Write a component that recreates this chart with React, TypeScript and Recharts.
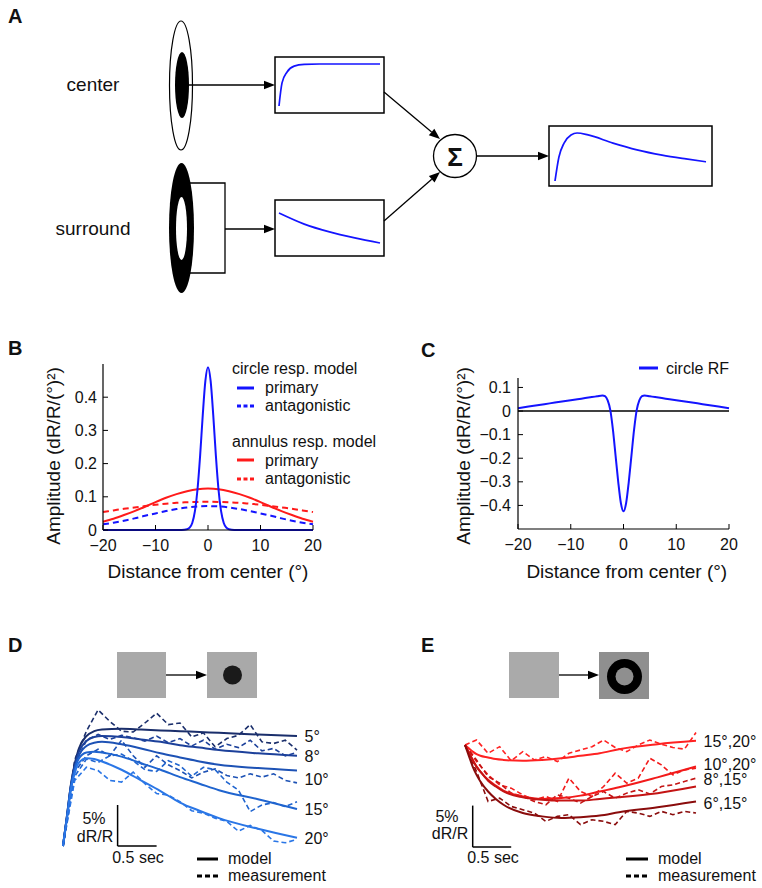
import React from 'react'
import { LineChart, Line, XAxis, YAxis, ReferenceLine } from 'recharts'

const FONT = '"Liberation Sans", Arial, Helvetica, sans-serif'
const BLUE = '#1414ff'
const RED = '#ff1a1a'

// A: schematic traces, normalised time / amplitude inside each box
const centerTime = [0, 0.03, 0.08, 0.15, 0.25, 0.4, 1]
const centerResp = [0, 0.55, 0.81, 0.95, 0.99, 1, 1]
const surroundTime = [0, 0.25, 0.5, 0.75, 1]
const surroundResp = [1, 0.63, 0.37, 0.17, 0]
const outputTime = [0, 0.026, 0.06, 0.106, 0.146, 0.219, 0.384, 0.543, 0.709, 0.868, 1]
const outputResp = [0, 0.5, 0.79, 0.96, 1, 0.96, 0.79, 0.65, 0.54, 0.46, 0.4]

// B: spatial profiles
const narrowX = [-20, -5, -4, -3.5, -3, -2.5, -2, -1.5, -1, -0.5, 0, 0.5, 1, 1.5, 2, 2.5, 3, 3.5, 4, 5, 20]
const circlePrimary = [0, 0, 0.002, 0.007, 0.021, 0.056, 0.122, 0.224, 0.346, 0.449, 0.49, 0.449, 0.346, 0.224, 0.122, 0.056, 0.021, 0.007, 0.002, 0, 0]
const broadX = [-20, -18, -16, -14, -12, -10, -8, -6, -4, -2, 0, 2, 4, 6, 8, 10, 12, 14, 16, 18, 20]
const circleAntag = [0.017, 0.022, 0.028, 0.035, 0.043, 0.05, 0.057, 0.063, 0.068, 0.071, 0.072, 0.071, 0.068, 0.063, 0.057, 0.05, 0.043, 0.035, 0.028, 0.022, 0.017]
const annulusPrimary = [0.025, 0.034, 0.045, 0.057, 0.07, 0.084, 0.097, 0.108, 0.117, 0.123, 0.125, 0.123, 0.117, 0.108, 0.097, 0.084, 0.07, 0.057, 0.045, 0.034, 0.025]
const annulusAntag = [0.054, 0.059, 0.064, 0.068, 0.072, 0.076, 0.079, 0.082, 0.0835, 0.0846, 0.085, 0.0846, 0.0835, 0.082, 0.079, 0.076, 0.072, 0.068, 0.064, 0.059, 0.054]

// C: circle receptive field
const rfX = [-20, -18, -16, -14, -12, -10, -8, -6, -5, -4, -3.5, -3, -2.5, -2, -1.5, -1, -0.5, 0, 0.5, 1, 1.5, 2, 2.5, 3, 3.5, 4, 5, 6, 8, 10, 12, 14, 16, 18, 20]
const circleRF = [0.012, 0.019, 0.0255, 0.0325, 0.039, 0.046, 0.0525, 0.059, 0.0625, 0.066, 0.063, 0.045, 0.004, -0.08, -0.19, -0.3, -0.39, -0.425, -0.39, -0.3, -0.19, -0.08, 0.004, 0.045, 0.063, 0.066, 0.0625, 0.059, 0.0525, 0.046, 0.039, 0.0325, 0.0255, 0.019, 0.012]

const distTicks = [-20, -10, 0, 10, 20]
const ampTicksB = [0, 0.1, 0.2, 0.3, 0.4]
const ampTicksC = [-0.4, -0.3, -0.2, -0.1, 0, 0.1]

// D / E: time courses (sec, % dR/R)
const tModel = [0, 0.05, 0.1, 0.15, 0.2, 0.3, 0.4, 0.5, 0.75, 1, 1.25, 1.5, 1.75, 2, 2.5, 3]
const tMeas = [0, 0.15, 0.3, 0.45, 0.6, 0.75, 0.9, 1.05, 1.2, 1.35, 1.5, 1.65, 1.8, 1.95, 2.1, 2.25, 2.4, 2.55, 2.7, 2.85, 3]

const model5 = [0, 3.6, 7.4, 10.0, 11.8, 13.4, 14.0, 14.2, 14.3, 14.2, 14.1, 14.0, 13.9, 13.8, 13.6, 13.4]
const model8 = [0, 3.6, 7.3, 9.8, 11.4, 12.8, 13.3, 13.4, 13.3, 13.0, 12.7, 12.3, 12.0, 11.7, 11.3, 11.0]
const model10 = [0, 3.5, 7.2, 9.5, 11.0, 12.2, 12.6, 12.7, 12.4, 11.9, 11.3, 10.8, 10.3, 9.9, 9.5, 9.2]
const model15 = [0, 3.4, 7.0, 9.3, 10.6, 11.4, 11.5, 11.4, 10.9, 10.1, 9.3, 8.4, 7.6, 6.8, 5.7, 4.5]
const model20 = [0, 3.3, 6.8, 8.9, 10.1, 10.7, 10.6, 10.3, 9.3, 8.0, 6.7, 5.3, 4.3, 3.4, 2.1, 1.0]
const meas5 = [0, 10.5, 14.0, 16.6, 15.2, 14.0, 13.9, 15.0, 16.2, 14.8, 15.0, 13.3, 13.8, 12.1, 13.1, 13.5, 14.8, 12.7, 12.5, 12.9, 11.7]
const meas8 = [0, 9.8, 12.9, 13.6, 13.0, 13.5, 13.2, 12.8, 13.4, 12.6, 13.1, 12.2, 12.9, 11.8, 12.4, 12.0, 12.9, 11.6, 11.9, 11.0, 11.4]
const meas10 = [0, 9.0, 11.0, 11.8, 11.0, 12.9, 11.0, 9.6, 11.0, 9.9, 9.2, 8.3, 9.0, 9.4, 8.6, 8.3, 8.8, 8.4, 8.8, 8.0, 7.7]
const meas15 = [0, 8.5, 10.6, 10.2, 11.0, 11.2, 10.4, 9.3, 9.1, 10.4, 9.8, 8.5, 9.6, 9.3, 7.8, 6.8, 4.2, 5.0, 5.3, 4.8, 5.4]
const meas20 = [0, 8.0, 9.6, 9.2, 8.0, 7.8, 9.0, 7.6, 6.4, 6.2, 5.4, 4.3, 4.0, 3.4, 3.0, 1.8, 2.5, 1.9, 0.6, 0.4, 0.8]
const circleLabels = ['5°', '8°', '10°', '15°', '20°']
const circleColors = ['#1a2e6b', '#1c409a', '#1d52b5', '#1f64cf', '#2a76e6']

const model1520 = [0, -0.4, -0.8, -1.1, -1.3, -1.5, -1.7, -1.8, -1.9, -1.8, -1.6, -1.3, -1.0, -0.5, 0.1, 0.5]
const model1020 = [0, -0.9, -1.8, -2.6, -3.2, -4.2, -4.9, -5.5, -6.2, -6.5, -6.4, -6.1, -5.6, -5.1, -3.9, -2.6]
const model815 = [0, -0.9, -1.8, -2.6, -3.2, -4.3, -5.0, -5.6, -6.3, -6.6, -6.7, -6.7, -6.5, -6.3, -5.8, -5.0]
const model615 = [0, -1.3, -2.6, -3.6, -4.4, -5.6, -6.5, -7.2, -8.2, -8.6, -8.8, -8.7, -8.5, -8.1, -7.5, -6.8]
const meas1520 = [0, 0.6, -1.0, -0.2, -1.9, -0.8, -1.8, -1.4, -2.0, -1.0, -0.6, -0.2, 0.6, -0.3, -0.8, 0.0, 0.6, 0.1, -0.3, -0.5, 1.5]
const meas1020 = [0, -2.0, -3.6, -4.8, -5.2, -6.0, -6.6, -6.2, -6.8, -4.0, -5.6, -6.2, -5.0, -3.4, -4.6, -4.0, -1.6, -2.4, -3.6, -3.0, -2.8]
const meas815 = [0, -1.8, -3.8, -4.6, -5.8, -6.2, -6.8, -7.2, -6.0, -6.4, -7.0, -6.2, -5.6, -6.4, -5.8, -5.4, -5.9, -5.0, -4.8, -4.4, -4.0]
const meas615 = [0, -3.2, -6.8, -6.4, -7.4, -7.8, -8.2, -9.2, -8.6, -8.4, -9.6, -9.0, -9.2, -9.6, -8.0, -8.2, -8.6, -8.0, -8.4, -8.0, -8.2]
const annulusLabels = ['15°,20°', '10°,20°', '8°,15°', '6°,15°']
const annulusColors = ['#ff2222', '#f21a1a', '#c41414', '#8a0c0c']

const pts = (xs: number[], ys: number[]) => xs.map((x, i) => ({ x, y: ys[i] }))
const minus = (v: number) => String(v).replace('-', '\u2212')

function Arrow({ x1, y1, x2, y2 }: { x1: number, y1: number, x2: number, y2: number }) {
  const a = Math.atan2(y2 - y1, x2 - x1)
  const head = 11, half = 4.3
  const bx = x2 - head * Math.cos(a), by = y2 - head * Math.sin(a)
  const px = -Math.sin(a) * half, py = Math.cos(a) * half
  return (
    <g>
      <line x1={x1} y1={y1} x2={bx} y2={by} stroke="#000" strokeWidth={1.3} />
      <polygon points={`${x2},${y2} ${bx + px},${by + py} ${bx - px},${by - py}`} fill="#000" />
    </g>
  )
}

function Trace({ t, v, left, top, width, height, margin }: any) {
  return (
    <div style={{ position: 'absolute', left, top }}>
      <LineChart width={width} height={height} margin={margin}>
        <XAxis dataKey="x" type="number" domain={[0, 1]} hide />
        <YAxis dataKey="y" type="number" domain={[0, 1]} hide />
        <Line data={pts(t, v)} dataKey="y" type="monotone" stroke={BLUE} strokeWidth={1.7} dot={false} isAnimationActive={false} />
      </LineChart>
    </div>
  )
}

function Title({ px, py, text, rotate }: any) {
  return (
    <text x={px} y={py} textAnchor="middle" fontSize={19} fontFamily={FONT} fill="#111"
      transform={rotate ? `rotate(-90 ${px} ${py})` : undefined}>{text}</text>
  )
}

const axisProps = {
  tickSize: -5,
  axisLine: { stroke: '#000', strokeWidth: 1.2 },
  tickLine: { stroke: '#000', strokeWidth: 1 },
  tick: { fontSize: 16, fill: '#111', fontFamily: FONT },
  tickFormatter: minus,
}

function endLabel(text: string, shift: number, n: number) {
  return (p: any) => p.index === n - 1
    ? <text key={text} x={p.x + 7.5} y={p.y + shift + 5.7} fontSize={16} fontFamily={FONT} fill="#111">{text}</text>
    : null
}

function TimeCourse({ left, margin, domain, labels, colors, shifts, models, meas, bar }: any) {
  return (
    <div style={{ position: 'absolute', left, top: 700 }}>
      <LineChart width={381} height={188} margin={margin}>
        <XAxis dataKey="x" type="number" domain={[0, 3]} hide />
        <YAxis dataKey="y" type="number" domain={domain} hide />
        {meas.map((m: number[], i: number) => (
          <Line key={'m' + i} data={pts(tMeas, m)} dataKey="y" type="linear" stroke={colors[i]}
            strokeWidth={1.6} strokeDasharray="5 3" dot={false} isAnimationActive={false} />
        ))}
        {models.map((m: number[], i: number) => (
          <Line key={'f' + i} data={pts(tModel, m)} dataKey="y" type="monotone" stroke={colors[i]}
            strokeWidth={2} dot={false} isAnimationActive={false} label={endLabel(labels[i], shifts[i], m.length)} />
        ))}
        <ReferenceLine segment={[{ x: bar.t, y: bar.v }, { x: bar.t, y: bar.v + 5 }]} stroke="#000" strokeWidth={1.5} />
        <ReferenceLine segment={[{ x: bar.t, y: bar.v }, { x: bar.t + 0.5, y: bar.v }]} stroke="#000" strokeWidth={1.5} />
      </LineChart>
    </div>
  )
}

function Key({ x, y, color, dash, thick }: any) {
  return <line x1={x} y1={y} x2={x + 17} y2={y} stroke={color} strokeWidth={thick} strokeDasharray={dash} />
}

export default function App() {
  const t = { fontFamily: FONT, fill: '#111' }
  return (
    <div style={{ position: 'absolute', left: 0, top: 0, width: 762, height: 888, background: '#fff', fontFamily: FONT }}>
      {/* A: mini traces */}
      <Trace t={centerTime} v={centerResp} left={275} top={57} width={109} height={56} margin={{ top: 7, right: 4, bottom: 7, left: 4 }} />
      <Trace t={surroundTime} v={surroundResp} left={275} top={200} width={109} height={56} margin={{ top: 13, right: 4, bottom: 13, left: 4 }} />
      <Trace t={outputTime} v={outputResp} left={549} top={126} width={163} height={60} margin={{ top: 7, right: 6, bottom: 5, left: 6 }} />

      {/* B */}
      <div style={{ position: 'absolute', left: 0, top: 340 }}>
        <LineChart width={381} height={260} margin={{ top: 24, right: 68, bottom: 0, left: 0 }}>
          <XAxis dataKey="x" type="number" domain={[-20, 20]} ticks={distTicks} height={70} tickMargin={15} {...axisProps}
            label={<Title px={208} py={237.5} text="Distance from center (°)" />} />
          <YAxis dataKey="y" type="number" domain={[0, 0.5]} ticks={ampTicksB} width={103} tickMargin={11} {...axisProps}
            label={<Title px={60} py={116} rotate text="Amplitude (dR/R/(°)²)" />} />
          <Line data={pts(broadX, annulusAntag)} dataKey="y" type="monotone" stroke={RED} strokeWidth={2} strokeDasharray="6 4" dot={false} isAnimationActive={false} />
          <Line data={pts(broadX, circleAntag)} dataKey="y" type="monotone" stroke={BLUE} strokeWidth={2} strokeDasharray="6 4" dot={false} isAnimationActive={false} />
          <Line data={pts(broadX, annulusPrimary)} dataKey="y" type="monotone" stroke={RED} strokeWidth={2} dot={false} isAnimationActive={false} />
          <Line data={pts(narrowX, circlePrimary)} dataKey="y" type="monotone" stroke={BLUE} strokeWidth={2} dot={false} isAnimationActive={false} />
        </LineChart>
      </div>

      {/* C */}
      <div style={{ position: 'absolute', left: 381, top: 340 }}>
        <LineChart width={381} height={260} margin={{ top: 38, right: 33, bottom: 0, left: 0 }}>
          <XAxis dataKey="x" type="number" domain={[-20, 20]} ticks={distTicks} height={71} tickMargin={15} {...axisProps}
            label={<Title px={245.8} py={237.7} text="Distance from center (°)" />} />
          <YAxis dataKey="y" type="number" domain={[-0.5, 0.14]} ticks={ampTicksC} width={137} tickMargin={12} {...axisProps}
            label={<Title px={88.5} py={116} rotate text="Amplitude (dR/R/(°)²)" />} />
          <ReferenceLine y={0} stroke="#000" strokeWidth={1.5} />
          <Line data={pts(rfX, circleRF)} dataKey="y" type="monotone" stroke={BLUE} strokeWidth={2} dot={false} isAnimationActive={false} />
        </LineChart>
      </div>

      {/* D */}
      <TimeCourse left={0} margin={{ top: 6.6, right: 84, bottom: 33.8, left: 63 }} domain={[-1, 17]}
        labels={circleLabels} colors={circleColors} shifts={[0, 0, 9, 0, 0]}
        models={[model5, model8, model10, model15, model20]} meas={[meas5, meas8, meas10, meas15, meas20]}
        bar={{ t: 0.7, v: 0 }} />

      {/* E */}
      <TimeCourse left={381} margin={{ top: 20.1, right: 66, bottom: 35.1, left: 84 }} domain={[-13, 3]}
        labels={annulusLabels} colors={annulusColors} shifts={[0, -2.5, -7, 2]}
        models={[model1520, model1020, model815, model615]} meas={[meas1520, meas1020, meas815, meas615]}
        bar={{ t: 0.1, v: -12.3 }} />

      <svg width={762} height={888} style={{ position: 'absolute', left: 0, top: 0, pointerEvents: 'none' }}>
        {/* panel letters */}
        <g fontSize={20} fontWeight="bold" {...t}>
          <text x={8} y={23}>A</text>
          <text x={8} y={355}>B</text>
          <text x={421} y={357}>C</text>
          <text x={8} y={652}>D</text>
          <text x={421} y={652}>E</text>
        </g>

        {/* A: schematic */}
        <text x={93} y={91} textAnchor="middle" fontSize={19} {...t}>center</text>
        <text x={93} y={235} textAnchor="middle" fontSize={19} {...t}>surround</text>
        <ellipse cx={181} cy={85.5} rx={11.5} ry={64.5} fill="#fff" stroke="#000" strokeWidth={1.2} />
        <ellipse cx={182} cy={85} rx={7} ry={33} fill="#000" />
        <Arrow x1={186} y1={85} x2={275} y2={85} />
        <ellipse cx={181.5} cy={228} rx={12.5} ry={65} fill="#000" />
        <ellipse cx={181.5} cy={228.5} rx={5.5} ry={31.5} fill="#fff" />
        <polyline points="190,183 225,183 225,273 190,273" fill="none" stroke="#000" strokeWidth={1.3} />
        <Arrow x1={225} y1={229} x2={275} y2={229} />
        <rect x={275} y={57} width={109} height={56} fill="none" stroke="#000" strokeWidth={1.5} />
        <rect x={275} y={200} width={109} height={56} fill="none" stroke="#000" strokeWidth={1.5} />
        <rect x={549} y={126} width={163} height={60} fill="none" stroke="#000" strokeWidth={1.5} />
        <Arrow x1={384} y1={92} x2={440} y2={139} />
        <Arrow x1={384} y1={221} x2={440} y2={172} />
        <circle cx={455} cy={156} r={21.5} fill="#fff" stroke="#000" strokeWidth={1.3} />
        <text x={455} y={165.5} textAnchor="middle" fontSize={26} fontWeight="bold" {...t}>Σ</text>
        <Arrow x1={476.5} y1={156} x2={549} y2={156} />

        {/* B legend */}
        <g fontSize={16} {...t}>
          <text x={232} y={374}>circle resp. model</text>
          <Key x={237} y={388} color={BLUE} thick={3} />
          <text x={265} y={393}>primary</text>
          <Key x={237} y={406} color={BLUE} thick={3} dash="4 2.5" />
          <text x={265} y={411}>antagonistic</text>
          <text x={232} y={446.5}>annulus resp. model</text>
          <Key x={237} y={460} color={RED} thick={3} />
          <text x={265} y={465.5}>primary</text>
          <Key x={237} y={479} color={RED} thick={3} dash="4 2.5" />
          <text x={265} y={484}>antagonistic</text>
        </g>

        {/* C legend */}
        <line x1={639} y1={368} x2={658} y2={368} stroke={BLUE} strokeWidth={3} />
        <text x={666} y={374} fontSize={16} {...t}>circle RF</text>

        {/* D stimulus */}
        <rect x={117} y={652} width={49} height={46} fill="#a9a9a9" />
        <Arrow x1={166} y1={675} x2={207} y2={675} />
        <rect x={207} y={652} width={50} height={46} fill="#a9a9a9" />
        <circle cx={232.5} cy={675} r={9.5} fill="#1a1a1a" />

        {/* E stimulus */}
        <rect x={509} y={652} width={50} height={46} fill="#aaaaaa" />
        <Arrow x1={559} y1={675} x2={599} y2={675} />
        <rect x={599} y={652} width={50} height={47} fill="#8f8f8f" />
        <circle cx={624.5} cy={676.5} r={17.5} fill="#000" />
        <circle cx={624.5} cy={676.5} r={9} fill="#8f8f8f" />

        {/* scale bar text */}
        <g fontSize={16} textAnchor="middle" {...t}>
          <text x={94} y={824}>5%</text>
          <text x={95} y={842}>dR/R</text>
          <text x={138} y={863}>0.5 sec</text>
          <text x={447} y={822}>5%</text>
          <text x={450} y={839}>dR/R</text>
          <text x={493} y={863}>0.5 sec</text>
        </g>

        {/* model / measurement keys */}
        <g fontSize={16} {...t}>
          <line x1={197} y1={859} x2={218} y2={859} stroke="#000" strokeWidth={3} />
          <text x={228} y={864}>model</text>
          <line x1={197} y1={876} x2={218} y2={876} stroke="#000" strokeWidth={3} strokeDasharray="5 3" />
          <text x={228} y={881}>measurement</text>
          <line x1={626} y1={859} x2={648} y2={859} stroke="#000" strokeWidth={3} />
          <text x={658} y={864}>model</text>
          <line x1={626} y1={876} x2={648} y2={876} stroke="#000" strokeWidth={3} strokeDasharray="5 3" />
          <text x={658} y={881}>measurement</text>
        </g>
      </svg>
    </div>
  )
}
